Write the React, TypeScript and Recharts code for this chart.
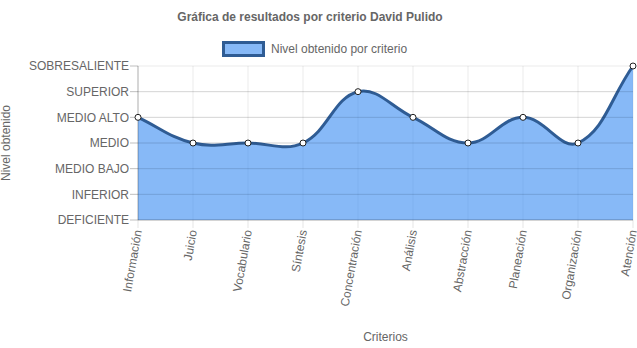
import React from "react";
import { AreaChart, Area, XAxis, YAxis, CartesianGrid, Label, ReferenceLine } from "recharts";

const categories = [
  "Información",
  "Juicio",
  "Vocabulario",
  "Síntesis",
  "Concentración",
  "Análisis",
  "Abstracción",
  "Planeación",
  "Organización",
  "Atención",
];
const levels = [4, 3, 3, 3, 5, 4, 3, 4, 3, 6];
const levelLabels = [
  "DEFICIENTE",
  "INFERIOR",
  "MEDIO BAJO",
  "MEDIO",
  "MEDIO ALTO",
  "SUPERIOR",
  "SOBRESALIENTE",
];
const levelTicks = [0, 1, 2, 3, 4, 5, 6];
const seriesName = "Nivel obtenido por criterio";
const title = "Gráfica de resultados por criterio David Pulido";

const data = categories.map((c, i) => ({ name: c, value: levels[i] }));

const FONT = "'Liberation Sans', Arial, Helvetica, sans-serif";
const LINE = "#2f5c94";
const FILL = "rgba(55,138,242,0.6)";

// Chart.js style spline (tension 0.4) as a d3 curve factory
function chartJsCurve(context: any) {
  let xs: number[] = [];
  let ys: number[] = [];
  let line: number = NaN;
  const t = 0.4;
  return {
    areaStart() {
      line = 0;
    },
    areaEnd() {
      line = NaN;
    },
    lineStart() {
      xs = [];
      ys = [];
    },
    point(x: number, y: number) {
      xs.push(+x);
      ys.push(+y);
    },
    lineEnd() {
      const n = xs.length;
      if (n) {
        if (line) context.lineTo(xs[0], ys[0]);
        else context.moveTo(xs[0], ys[0]);
        const cpPrev: [number, number][] = [];
        const cpNext: [number, number][] = [];
        for (let i = 0; i < n; i++) {
          const px = i > 0 ? xs[i - 1] : xs[i];
          const py = i > 0 ? ys[i - 1] : ys[i];
          const nx = i < n - 1 ? xs[i + 1] : xs[i];
          const ny = i < n - 1 ? ys[i + 1] : ys[i];
          const d01 = Math.hypot(xs[i] - px, ys[i] - py);
          const d12 = Math.hypot(nx - xs[i], ny - ys[i]);
          let s01 = d01 / (d01 + d12);
          let s12 = d12 / (d01 + d12);
          if (isNaN(s01)) s01 = 0;
          if (isNaN(s12)) s12 = 0;
          const fa = t * s01;
          const fb = t * s12;
          cpPrev.push([xs[i] - fa * (nx - px), ys[i] - fa * (ny - py)]);
          cpNext.push([xs[i] + fb * (nx - px), ys[i] + fb * (ny - py)]);
        }
        for (let i = 1; i < n; i++) {
          context.bezierCurveTo(
            cpNext[i - 1][0],
            cpNext[i - 1][1],
            cpPrev[i][0],
            cpPrev[i][1],
            xs[i],
            ys[i]
          );
        }
      }
      if (line || (line !== 0 && n === 1)) context.closePath();
      line = 1 - line;
    },
  };
}

const XTick = (props: any) => {
  const { x, y, payload } = props;
  return (
    <text
      x={x}
      y={y}
      transform={`rotate(-80, ${x}, ${y})`}
      textAnchor="end"
      dominantBaseline="central"
      fill="#666"
      fontSize={12}
      fontFamily={FONT}
    >
      {payload.value}
    </text>
  );
};

export default function App() {
  return (
    <div
      style={{
        position: "absolute",
        left: 0,
        top: 0,
        width: 637,
        height: 348,
        background: "#fff",
        fontFamily: FONT,
      }}
    >
      <div
        style={{
          position: "absolute",
          left: 0,
          top: 10,
          width: 620,
          textAlign: "center",
          fontSize: 12,
          lineHeight: "14px",
          fontWeight: "bold",
          color: "#666",
        }}
      >
        {title}
      </div>
      <div
        style={{
          position: "absolute",
          left: 222,
          top: 42,
          height: 14,
          display: "flex",
          alignItems: "center",
          fontSize: 12,
          color: "#666",
        }}
      >
        <span
          style={{
            display: "inline-block",
            width: 37,
            height: 10,
            background: FILL,
            border: `3px solid ${LINE}`,
            boxSizing: "content-box",
            marginRight: 6,
          }}
        />
        <span>{seriesName}</span>
      </div>
      <AreaChart
        width={637}
        height={348}
        data={data}
        margin={{ top: 66, right: 4, left: 0, bottom: 0 }}
      >
        <CartesianGrid stroke="rgba(0,0,0,0.08)" strokeWidth={1} />
        <XAxis
          dataKey="name"
          height={128}
          interval={0}
          tickSize={8}
          tickMargin={2}
          tick={<XTick />}
          tickLine={{ stroke: "rgba(0,0,0,0.1)" }}
          axisLine={{ stroke: "rgba(0,0,0,0.18)", strokeWidth: 1.5 }}
        >
          <Label
            value="Criterios"
            position="insideBottom"
            offset={7}
            style={{ fill: "#666", fontSize: 12, fontFamily: FONT }}
          />
        </XAxis>
        <YAxis
          type="number"
          domain={[0, 6]}
          ticks={levelTicks}
          interval={0}
          width={138}
          tickSize={8}
          tickMargin={1}
          tickFormatter={(v: number) => levelLabels[v]}
          tick={{ fill: "#666", fontSize: 12, fontFamily: FONT }}
          tickLine={{ stroke: "rgba(0,0,0,0.25)" }}
          axisLine={{ stroke: "rgba(0,0,0,0.25)" }}
        >
          <Label
            value="Nivel obtenido"
            angle={-90}
            position="insideLeft"
            offset={6}
            style={{ fill: "#666", fontSize: 12, fontFamily: FONT, textAnchor: "middle" }}
          />
        </YAxis>
        <Area
          type={chartJsCurve as any}
          dataKey="value"
          name={seriesName}
          stroke={LINE}
          strokeWidth={3}
          fill={FILL}
          fillOpacity={1}
          baseValue={0}
          isAnimationActive={false}
          dot={false}
          activeDot={false}
        />
        {levelTicks.slice(1, 6).map((v) => (
          <ReferenceLine key={v} y={v} stroke="rgba(0,0,0,0.1)" strokeWidth={1} />
        ))}
        <Area
          type={chartJsCurve as any}
          dataKey="value"
          legendType="none"
          stroke="none"
          fill="none"
          isAnimationActive={false}
          dot={{ r: 3, fill: "#fff", stroke: "#222", strokeWidth: 1, fillOpacity: 1 }}
          activeDot={false}
        />
      </AreaChart>
    </div>
  );
}
